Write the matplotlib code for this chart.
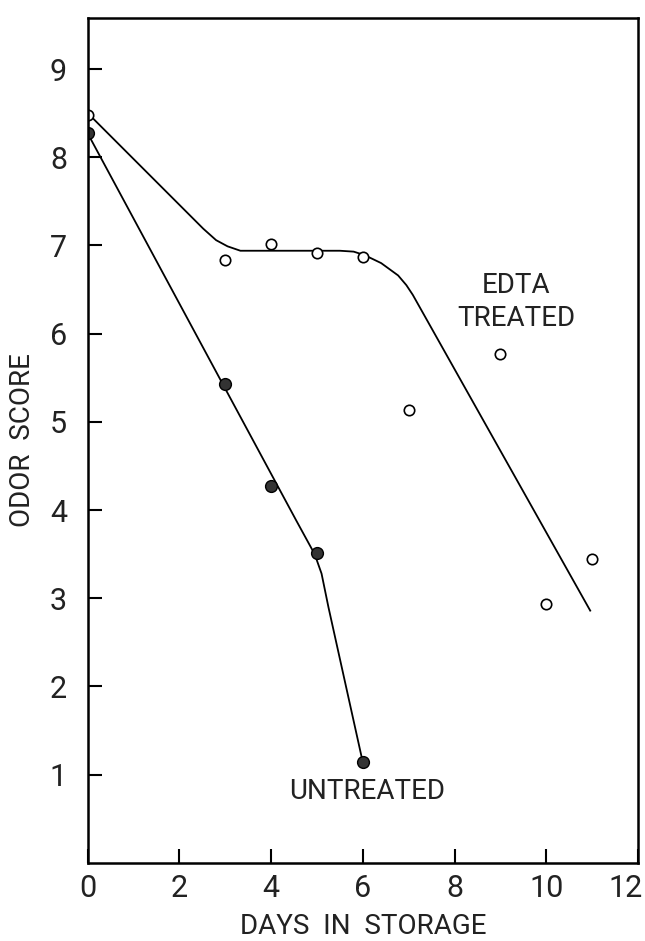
import matplotlib.pyplot as plt
from matplotlib.transforms import ScaledTranslation

# observed points
edta_days = [0, 3, 4, 5, 6, 7, 9, 10, 11]
edta_score = [8.48, 6.83, 7.02, 6.92, 6.87, 5.13, 5.77, 2.94, 3.45]
untr_days = [0, 3, 4, 5, 6]
untr_score = [8.27, 5.43, 4.27, 3.51, 1.14]

# hand-drawn fitted curves
edta_fit_x = [0, 2.52, 2.8, 3.05, 3.33, 5.5, 5.8, 6.04, 6.4, 6.77, 6.95, 7.09, 10.96]
edta_fit_y = [8.5, 7.19, 7.06, 6.99, 6.94, 6.94, 6.93, 6.89, 6.8, 6.66, 6.55, 6.44, 2.86]
untr_fit_x = [0, 4.55, 4.95, 5.1, 5.25, 6.0]
untr_fit_y = [8.27, 3.88, 3.5, 3.28, 2.9, 1.14]

plt.rcParams['font.family'] = ['Roboto', 'DejaVu Sans']
ink = '#222222'

fig = plt.figure(figsize=(6.45, 9.41), dpi=100)
ax = fig.add_axes([0.136, 0.083, 0.853, 0.898])

ax.plot(edta_fit_x, edta_fit_y, color='black', lw=1.3)
ax.plot(untr_fit_x, untr_fit_y, color='black', lw=1.3)
ax.plot(edta_days, edta_score, 'o', ms=7.5, mfc='white', mec='black', mew=1.2)
ax.plot(untr_days, untr_score, 'o', ms=8.5, mfc='#333333', mec='black', mew=1)

ax.text(9.35, 6.36, 'EDTA\nTREATED', ha='center', va='center', fontsize=20,
        linespacing=1.25, color=ink)
ax.text(6.09, 0.81, 'UNTREATED', ha='center', va='center', fontsize=20, color=ink)

ax.set_xlim(0, 12)
ax.set_ylim(0, 9.58)
ax.set_xticks(range(0, 13, 2))
ax.set_yticks(range(1, 10))
ax.tick_params(direction='in', length=10, width=1.5, labelsize=22, labelcolor=ink)
ax.tick_params(axis='x', pad=8)
ax.tick_params(axis='y', pad=15)
for s in ax.spines.values():
    s.set_linewidth(1.8)

# last x label sits against the figure edge
last = ax.get_xticklabels()[-1]
last.set_transform(last.get_transform() + ScaledTranslation(-0.12, 0, fig.dpi_scale_trans))

ax.set_xlabel('DAYS  IN  STORAGE', fontsize=20, labelpad=7, color=ink)
ax.set_ylabel('ODOR  SCORE', fontsize=20, labelpad=10, color=ink)

fig.savefig('out.png', dpi=100)
